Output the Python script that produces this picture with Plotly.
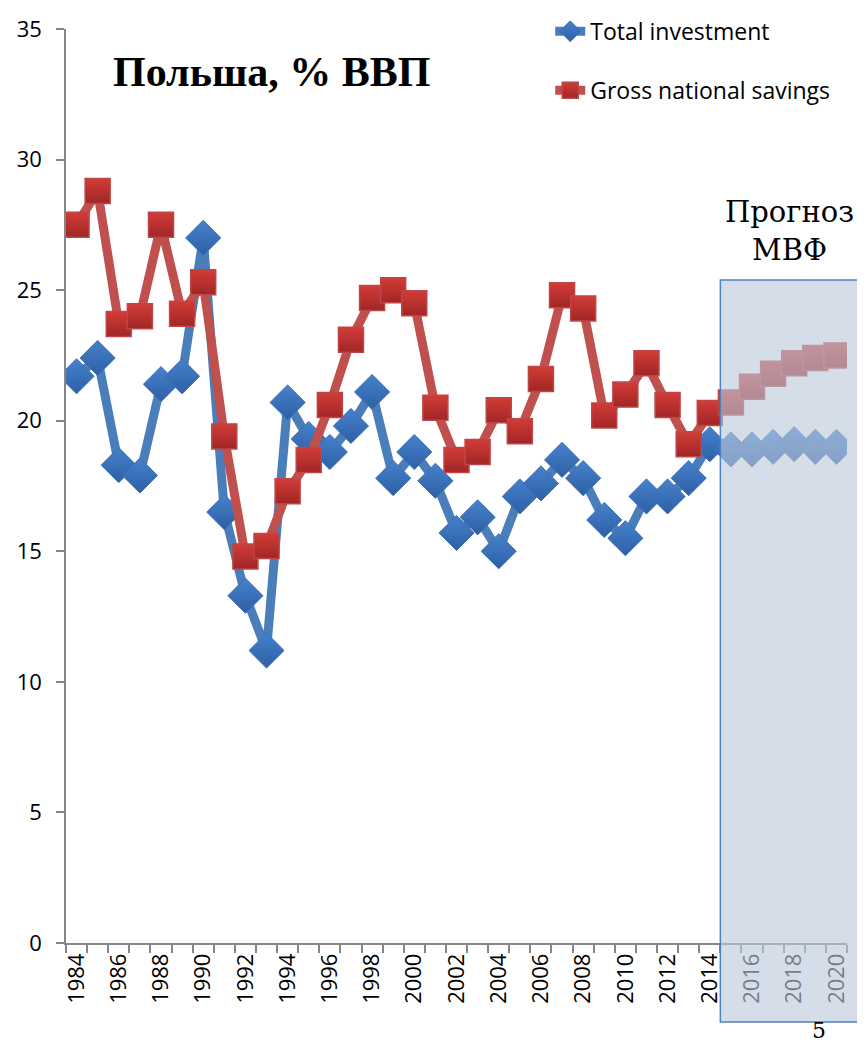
import plotly.graph_objects as go

years = list(range(1984, 2021))
total_investment = [21.7, 22.4, 18.3, 17.9, 21.4, 21.7, 27.0, 16.5, 13.3, 11.2,
                    20.7, 19.3, 18.8, 19.8, 21.1, 17.8, 18.8, 17.7, 15.7, 16.3,
                    15.0, 17.1, 17.6, 18.5, 17.8, 16.2, 15.5, 17.1, 17.1, 17.8,
                    19.1, 18.9, 18.9, 19.0, 19.1, 19.0, 19.0]
gross_savings = [27.5, 28.8, 23.7, 24.0, 27.5, 24.1, 25.3, 19.4, 14.8, 15.2,
                 17.3, 18.5, 20.6, 23.1, 24.7, 25.0, 24.5, 20.5, 18.5, 18.8,
                 20.4, 19.6, 21.6, 24.8, 24.3, 20.2, 21.0, 22.2, 20.6, 19.1,
                 20.3, 20.7, 21.3, 21.8, 22.2, 22.4, 22.5]
tick_years = list(range(1984, 2021, 2))
forecast_start = 2015

title_text = "<b>Польша, % ВВП</b>"
forecast_text = "Прогноз<br>МВФ"
slide_number = "5"

x_range = [1983.5, 2020.5]

fig = go.Figure()
fig.add_trace(go.Scatter(
    x=years, y=total_investment, name="Total investment",
    mode="lines+markers",
    line=dict(color="rgb(74,126,187)", width=9),
    marker=dict(symbol="diamond", size=27, color="rgb(70,130,205)",
                gradient=dict(type="vertical", color="rgb(45,95,165)"),
                line=dict(color="rgb(60,110,180)", width=1)),
    legendgroup="a",
))
fig.add_trace(go.Scatter(
    x=years, y=gross_savings, name="Gross national savings",
    mode="lines+markers",
    line=dict(color="rgb(192,80,77)", width=9),
    marker=dict(symbol="square", size=25, color="rgb(210,60,55)",
                gradient=dict(type="vertical", color="rgb(160,38,38)"),
                line=dict(color="rgb(190,70,70)", width=1.5)),
    legendgroup="b",
))

fx0 = (forecast_start - 0.5 - x_range[0]) / (x_range[1] - x_range[0])
fig.add_shape(type="rect", xref="paper", yref="paper",
              x0=fx0, x1=1.014, y0=-0.0864, y1=0.7254,
              fillcolor="rgba(188,200,218,0.62)",
              line=dict(color="rgb(79,129,189)", width=1.5),
              layer="above")

fig.add_annotation(text=title_text, xref="paper", yref="paper",
                   x=0.264, y=0.953, showarrow=False,
                   font=dict(family="Liberation Serif", size=42, color="black"),
                   xanchor="center", yanchor="middle")
fig.add_annotation(text=forecast_text, xref="paper", yref="paper",
                   x=0.927, y=0.779, showarrow=False,
                   font=dict(family="DejaVu Serif", size=29, color="black"),
                   xanchor="center", yanchor="middle", align="center")
fig.add_annotation(text=slide_number, xref="paper", yref="paper",
                   x=0.964, y=-0.096, showarrow=False,
                   font=dict(family="DejaVu Serif", size=22, color="black"),
                   xanchor="center", yanchor="middle")

# page body adds an 8px offset; margins are set so the plot lands where the reference has it
fig.update_layout(
    width=865, height=1044,
    margin=dict(l=58, r=26, t=21, b=109, autoexpand=False),
    paper_bgcolor="white", plot_bgcolor="white",
    font=dict(family="Open Sans", size=20, color="black"),
    showlegend=True,
    legend=dict(x=0.62, y=1.021, xanchor="left", yanchor="top",
                font=dict(family="Open Sans", size=23, color="black"),
                bgcolor="rgba(0,0,0,0)", tracegroupgap=26,
                traceorder="grouped"),
    xaxis=dict(range=x_range, tickmode="array", tickvals=tick_years,
               ticktext=[str(y) for y in tick_years], tickangle=-90,
               ticks="", showgrid=False, zeroline=False, automargin=False,
               showline=True, linecolor="rgb(134,134,134)", linewidth=1.5,
               tickfont=dict(family="Open Sans", size=22, color="black"),
               minor=dict(tick0=1983.5, dtick=1, ticks="outside", ticklen=8,
                          tickcolor="rgb(134,134,134)", tickwidth=1.5, showgrid=False)),
    yaxis=dict(range=[0, 35], dtick=5, ticks="outside", ticklen=8,
               tickcolor="rgb(134,134,134)", tickwidth=1.5, automargin=False,
               ticklabelstandoff=10,
               showgrid=False, zeroline=False, showline=True,
               linecolor="rgb(134,134,134)", linewidth=1.5,
               tickfont=dict(family="Open Sans", size=22, color="black")),
)

fig.write_html("out.html")
